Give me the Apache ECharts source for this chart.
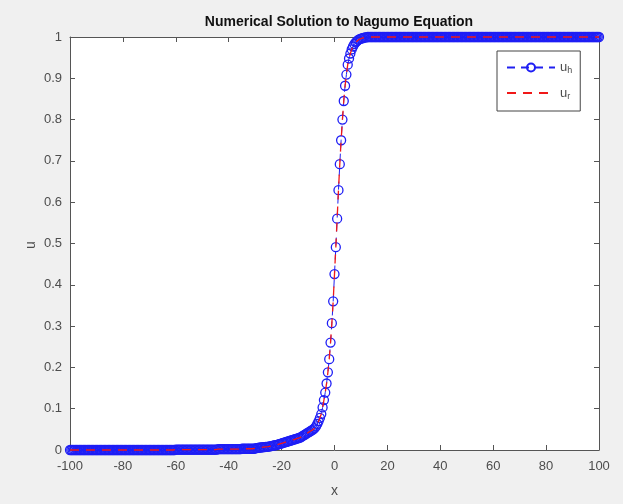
<!DOCTYPE html>
<html>
<head>
<meta charset="utf-8">
<script src="https://cdn.jsdelivr.net/npm/echarts@6/dist/echarts.min.js"></script>
<style>
  html, body { margin: 0; padding: 0; background: #f0f0f0; }
  #chart { width: 623px; height: 504px; }
</style>
</head>
<body>
<div id="chart"></div>
<script>
// x grid, step 0.5 (solution sampled densely, so the flat parts read as a solid band)
const xLeft = [
  -100, -99.5, -99, -98.5, -98, -97.5, -97, -96.5, -96, -95.5, -95, -94.5, -94, -93.5, -93, -92.5, -92, -91.5, -91, -90.5,
  -90, -89.5, -89, -88.5, -88, -87.5, -87, -86.5, -86, -85.5, -85, -84.5, -84, -83.5, -83, -82.5, -82, -81.5, -81, -80.5,
  -80, -79.5, -79, -78.5, -78, -77.5, -77, -76.5, -76, -75.5, -75, -74.5, -74, -73.5, -73, -72.5, -72, -71.5, -71, -70.5,
  -70, -69.5, -69, -68.5, -68, -67.5, -67, -66.5, -66, -65.5, -65, -64.5, -64, -63.5, -63, -62.5, -62, -61.5, -61, -60.5,
  -60, -59.5, -59, -58.5, -58, -57.5, -57, -56.5, -56, -55.5, -55, -54.5, -54, -53.5, -53, -52.5, -52, -51.5, -51, -50.5,
  -50, -49.5, -49, -48.5, -48, -47.5, -47, -46.5, -46, -45.5, -45, -44.5, -44, -43.5, -43, -42.5, -42, -41.5, -41, -40.5,
  -40, -39.5, -39, -38.5, -38, -37.5, -37, -36.5, -36, -35.5, -35, -34.5, -34, -33.5, -33, -32.5, -32, -31.5, -31, -30.5];
const uLeft = [
  0, 0, 0, 0, 0, 0, 0, 0, 0, 0, 0, 0, 0, 0, 0, 0, 0, 0, 0, 0,
  0, 0, 0, 0, 0, 0, 0, 0, 0, 0, 0, 0, 0, 0, 0, 0, 0, 0, 0, 0,
  0, 0, 0, 0, 0, 0, 0, 0, 0, 0, 0, 0, 0, 0, 0, 0, 0, 0, 0, 0,
  0, 0, 0, 0, 0, 0, 0, 0, 0, 0, 0, 0, 0, 0, 0, 0, 0, 0, 0, 0,
  0.001, 0.001, 0.001, 0.001, 0.001, 0.001, 0.001, 0.001, 0.001, 0.001, 0.001, 0.001, 0.001, 0.001, 0.001, 0.001, 0.001, 0.001, 0.001, 0.001,
  0.001, 0.001, 0.001, 0.001, 0.001, 0.001, 0.001, 0.001, 0.001, 0.001, 0.001, 0.001, 0.002, 0.002, 0.002, 0.002, 0.002, 0.002, 0.002, 0.002,
  0.002, 0.002, 0.002, 0.002, 0.002, 0.002, 0.002, 0.002, 0.002, 0.002, 0.003, 0.003, 0.003, 0.003, 0.003, 0.003, 0.003, 0.003, 0.003, 0.003];

const xMid = [-30, -29.5, -29, -28.5, -28, -27.5, -27, -26.5, -26, -25.5, -25, -24.5, -24, -23.5, -23, -22.5,
  -22, -21.5, -21, -20.5, -20, -19.5, -19, -18.5, -18, -17.5, -17, -16.5, -16, -15.5, -15, -14.5,
  -14, -13.5, -13, -12.5, -12, -11.5, -11, -10.5, -10, -9.5, -9, -8.5, -8, -7.5, -7, -6.5,
  -6, -5.5, -5, -4.5, -4, -3.5, -3, -2.5, -2, -1.5, -1, -0.5, 0, 0.5, 1, 1.5,
  2, 2.5, 3, 3.5, 4, 4.5, 5, 5.5, 6, 6.5, 7, 7.5, 8, 8.5, 9, 9.5, 10, 10.5, 11, 11.5, 12];
const uMid = [0.004, 0.0045, 0.005, 0.0055, 0.006, 0.0065, 0.007, 0.0072, 0.0075, 0.0078, 0.008, 0.0088, 0.0095, 0.010, 0.011, 0.0115,
  0.012, 0.013, 0.014, 0.015, 0.016, 0.017, 0.018, 0.019, 0.020, 0.021, 0.022, 0.023, 0.024, 0.025, 0.026, 0.027,
  0.028, 0.029, 0.030, 0.032, 0.034, 0.036, 0.038, 0.040, 0.042, 0.044, 0.046, 0.048, 0.050, 0.053, 0.057, 0.063,
  0.070, 0.078, 0.087, 0.103, 0.121, 0.139, 0.161, 0.188, 0.220, 0.260, 0.307, 0.360, 0.426, 0.491, 0.560, 0.629,
  0.692, 0.750, 0.800, 0.845, 0.882, 0.909, 0.933, 0.948, 0.960, 0.970, 0.977, 0.983, 0.987, 0.990, 0.993, 0.995,
  0.996, 0.997, 0.998, 0.999, 0.999];

const xRight = [
  12.5, 13, 13.5, 14, 14.5, 15, 15.5, 16, 16.5, 17, 17.5, 18, 18.5, 19, 19.5, 20,
  20.5, 21, 21.5, 22, 22.5, 23, 23.5, 24, 24.5, 25, 25.5, 26, 26.5, 27, 27.5, 28, 28.5, 29, 29.5, 30,
  30.5, 31, 31.5, 32, 32.5, 33, 33.5, 34, 34.5, 35, 35.5, 36, 36.5, 37, 37.5, 38, 38.5, 39, 39.5, 40,
  40.5, 41, 41.5, 42, 42.5, 43, 43.5, 44, 44.5, 45, 45.5, 46, 46.5, 47, 47.5, 48, 48.5, 49, 49.5, 50,
  50.5, 51, 51.5, 52, 52.5, 53, 53.5, 54, 54.5, 55, 55.5, 56, 56.5, 57, 57.5, 58, 58.5, 59, 59.5, 60,
  60.5, 61, 61.5, 62, 62.5, 63, 63.5, 64, 64.5, 65, 65.5, 66, 66.5, 67, 67.5, 68, 68.5, 69, 69.5, 70,
  70.5, 71, 71.5, 72, 72.5, 73, 73.5, 74, 74.5, 75, 75.5, 76, 76.5, 77, 77.5, 78, 78.5, 79, 79.5, 80,
  80.5, 81, 81.5, 82, 82.5, 83, 83.5, 84, 84.5, 85, 85.5, 86, 86.5, 87, 87.5, 88, 88.5, 89, 89.5, 90,
  90.5, 91, 91.5, 92, 92.5, 93, 93.5, 94, 94.5, 95, 95.5, 96, 96.5, 97, 97.5, 98, 98.5, 99, 99.5, 100];
const uRight = [
  1, 1, 1, 1, 1, 1, 1, 1, 1, 1, 1, 1, 1, 1, 1, 1,
  1, 1, 1, 1, 1, 1, 1, 1, 1, 1, 1, 1, 1, 1, 1, 1, 1, 1, 1, 1,
  1, 1, 1, 1, 1, 1, 1, 1, 1, 1, 1, 1, 1, 1, 1, 1, 1, 1, 1, 1,
  1, 1, 1, 1, 1, 1, 1, 1, 1, 1, 1, 1, 1, 1, 1, 1, 1, 1, 1, 1,
  1, 1, 1, 1, 1, 1, 1, 1, 1, 1, 1, 1, 1, 1, 1, 1, 1, 1, 1, 1,
  1, 1, 1, 1, 1, 1, 1, 1, 1, 1, 1, 1, 1, 1, 1, 1, 1, 1, 1, 1,
  1, 1, 1, 1, 1, 1, 1, 1, 1, 1, 1, 1, 1, 1, 1, 1, 1, 1, 1, 1,
  1, 1, 1, 1, 1, 1, 1, 1, 1, 1, 1, 1, 1, 1, 1, 1, 1, 1, 1, 1,
  1, 1, 1, 1, 1, 1, 1, 1, 1, 1, 1, 1, 1, 1, 1, 1, 1, 1, 1, 1];

const xs = xLeft.concat(xMid, xRight);
const uh = uLeft.concat(uMid, uRight);
// u_r lies on top of u_h everywhere in the picture
const ur = uh;

const chart = echarts.init(document.getElementById('chart'));

const axisColor = '#555';
const labelColor = '#4d4d4d';

chart.setOption({
  backgroundColor: '#f0f0f0',
  animation: false,
  title: {
    text: 'Numerical Solution to Nagumo Equation',
    left: 334,
    textAlign: 'center',
    top: 10,
    textStyle: { fontFamily: 'Liberation Sans', fontSize: 14, fontWeight: 'bold', color: '#111' },
  },
  // y axis name sits closer to the tick labels than echarts would place it
  graphic: [
    {
      type: 'text',
      x: 31,
      y: 245,
      rotation: Math.PI / 2,
      style: {
        text: 'u',
        fill: labelColor,
        font: '14px "Liberation Sans"',
        align: 'center',
        verticalAlign: 'middle',
      },
    },
  ],
  grid: {
    left: 70,
    right: 24,
    top: 37,
    bottom: 54,
    show: true,
    backgroundColor: '#fff',
    borderWidth: 0,
  },
  legend: {
    orient: 'vertical',
    left: 497,
    top: 51,
    padding: [10, 8, 10, 9],
    itemWidth: 48,
    itemHeight: 10,
    itemGap: 11,
    backgroundColor: '#fff',
    borderColor: '#444',
    borderWidth: 1,
    borderRadius: 0,
    data: [
      { name: 'uh' },
      { name: 'ur', itemStyle: { color: 'rgba(0,0,0,0)', borderWidth: 0 } },
    ],
    formatter(name) {
      return name === 'uh' ? '{m|u}{s|h}' : '{m|u}{s|r}';
    },
    textStyle: {
      color: labelColor,
      fontFamily: 'Liberation Sans',
      rich: {
        m: { fontSize: 13, color: labelColor },
        s: { fontSize: 9, color: labelColor, padding: [7, 0, 0, 0] },
      },
    },
  },
  xAxis: [
    {
      type: 'value',
      min: -100,
      max: 100,
      interval: 20,
      name: 'x',
      nameLocation: 'middle',
      nameGap: 34,
      nameTextStyle: { color: labelColor, fontFamily: 'Liberation Sans', fontSize: 14 },
      axisLine: { show: true, onZero: false, lineStyle: { color: axisColor, width: 1 } },
      axisTick: { show: true, inside: true, length: 5, lineStyle: { color: axisColor } },
      axisLabel: { color: labelColor, fontFamily: 'Liberation Sans', fontSize: 13, margin: 10 },
      splitLine: { show: false },
    },
    {
      type: 'value',
      position: 'top',
      min: -100,
      max: 100,
      interval: 20,
      axisLine: { show: true, onZero: false, lineStyle: { color: axisColor, width: 1 } },
      axisTick: { show: true, inside: true, length: 5, lineStyle: { color: axisColor } },
      axisLabel: { show: false },
      splitLine: { show: false },
    },
  ],
  yAxis: [
    {
      type: 'value',
      min: 0,
      max: 1,
      interval: 0.1,
      axisLine: { show: true, onZero: false, lineStyle: { color: axisColor, width: 1 } },
      axisTick: { show: true, inside: true, length: 5, lineStyle: { color: axisColor } },
      axisLabel: { color: labelColor, fontFamily: 'Liberation Sans', fontSize: 13, margin: 8 },
      splitLine: { show: false },
    },
    {
      type: 'value',
      position: 'right',
      min: 0,
      max: 1,
      interval: 0.1,
      axisLine: { show: true, onZero: false, lineStyle: { color: axisColor, width: 1 } },
      axisTick: { show: true, inside: true, length: 5, lineStyle: { color: axisColor } },
      axisLabel: { show: false },
      splitLine: { show: false },
    },
  ],
  series: [
    {
      name: 'uh',
      type: 'line',
      data: xs.map((x, i) => [x, uh[i]]),
      symbol: 'circle',
      symbolSize: 9,
      clip: false,
      lineStyle: { color: '#2020f0', width: 1, type: [8, 6] },
      itemStyle: { color: 'rgba(0,0,0,0)', borderColor: '#1e1ef5', borderWidth: 1.3 },
      emphasis: { disabled: true },
      z: 2,
    },
    {
      name: 'ur',
      type: 'line',
      data: xs.map((x, i) => [x, ur[i]]),
      symbol: 'none',
      clip: false,
      lineStyle: { color: '#f01818', width: 1.3, type: [9, 7] },
      itemStyle: { color: '#f01818' },
      emphasis: { disabled: true },
      z: 3,
    },
  ],
});
</script>
</body>
</html>
